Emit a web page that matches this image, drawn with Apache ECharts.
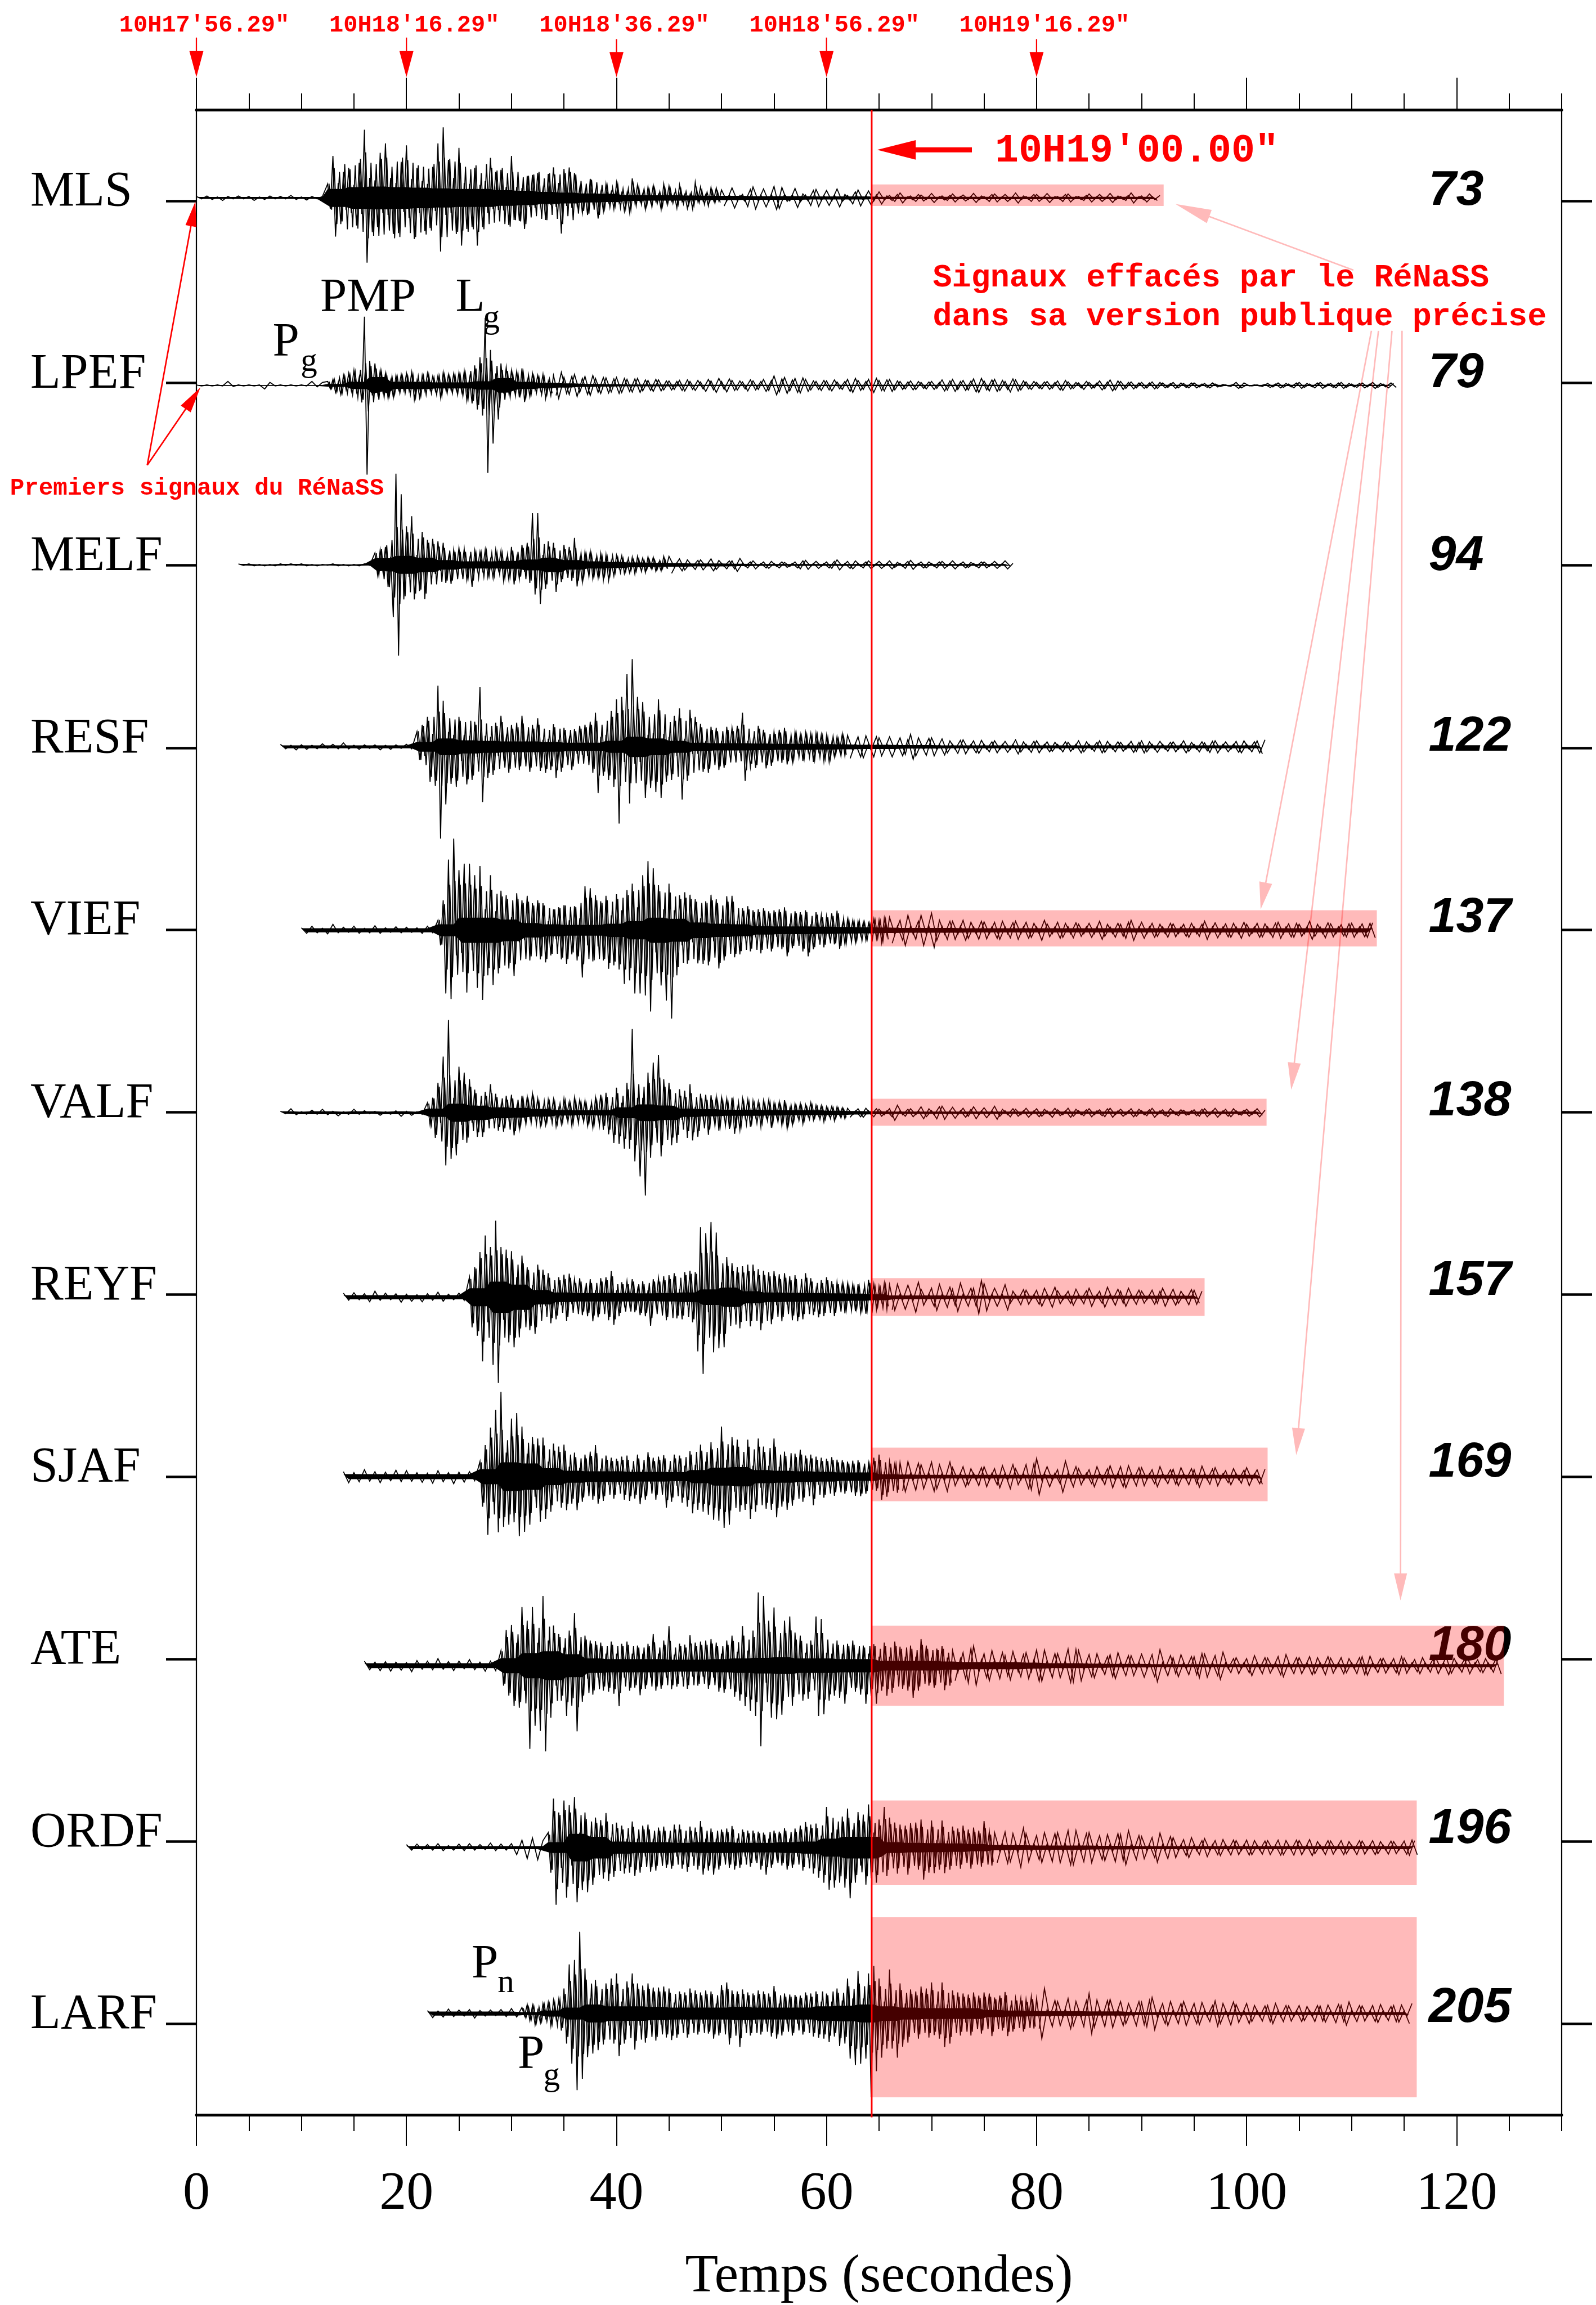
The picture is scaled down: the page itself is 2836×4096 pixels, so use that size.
<!DOCTYPE html>
<html><head><meta charset="utf-8"><style>html,body{margin:0;background:#fff}#c{width:2836px;height:4096px}</style>
<script src="https://cdn.jsdelivr.net/npm/echarts@6/dist/echarts.min.js"></script></head><body><div id="c"></div>
<script>
const stationNames=['MLS','LPEF','MELF','RESF','VIEF','VALF','REYF','SJAF','ATE','ORDF','LARF'];
const distances=['73','79','94','122','137','138','157','169','180','196','205'];
const stationTicks=[182,545,909,1273,1636,2000,2364,2727,3091,3455,3818];
const baselines=[176,550,908,1271,1637,2001,2369,2727,3104,3467,3798];
const traceStarts=[0,0,4,8,10,8,14,14,16,20,22];
const preBands=[2,1,2,3,4,3,4,5,5,3,4];
const xMajor=[0,20,40,60,80,100,120];
const clockTicks=[0,20,40,60,80];
const clockLabels=["10H17'56.29\"","10H18'16.29\"","10H18'36.29\"","10H18'56.29\"","10H19'16.29\""];
const cutTime=64.3;
const erasedEnd=[92.1,112.4,101.9,96,102,124.5,116.2,116.2];
const erasedTop=[149,1597,1973,2331,2669,3024,3373,3606];
const erasedBottom=[192,1669,2027,2406,2776,3184,3542,3965];

const mlsPre=[3,2,4,3,2,5,3,2,4,2,3,5,2,3,4,2,3,2,5,3,2,4,3,2,3];
const mlsLoud=[28,22,84,77,30,52,52,24,60,30,26,55,70,32,136,129,40,68,35,58,90,30,109,34,40,72,30,70,72,28,105,40,38,82,60,30,34,66,28,60,62,26,109,107,141,34,76,30,40,72,100,95,30,62,28,58,60,95,26,58,34,30,80,22,52,24,56,25,22,54,84,44,22,46,20,62,44,18,46,20,50,16,18,44,48,14,61,18,30,71,58,16,61,20,50,14,20,30,12,34,38,10,14,41,10,26,28,8,12,22,30,9,10,26,9,29,39,8,26,7,9,23,22,8,25,7,7,23,28,8,24,6,8,20,26,7,7,21,6,22,31,6,22,6,7,16,21,5,20,6];
const mlsBody=[22,18,46,40,40,36,52,48,44,45,50,47,60,52,70,62,54,58,52,58,60,56,62,50,48,62,56,60,62,45,58,54,54,60,50,53,48,56,45,50,52,42,56,60,62,60,60,50,56,52,54,50,48,52,44,48,50,52,38,48,52,40,46,38,42,36,46,40,38,44,40,34,40,36,32,40,34,30,36,28,40,32,30,34,38,26,36,32,36,40,38,28,40,34,36,24,26,20,22,24,28,18,24,26,20,16,18,14,16,12,20,15,14,16,14,18,20,12,16,10,14,13,12,14,15,9,10,13,14,10,14,8,12,10,14,9,10,11,8,12,14,7,12,10,9,6,11,8,10,7];
const mlsQuiet=[16,6,20,5,7,17,22,6,18,7,23,21,7,6,19,8,6,15,17,5,15,6,18,7,5,12,16,5,14,6,12,4,5,7,10,3,4,7,6,3,9,3,4,5,8,3,6,3,9,4,3,7,8,3,7,3,10,4,3,7,7,3,9,3,3,7,8,3,3,5,8,3,7,3,9,4,3,5,10,3,4,8,3,5];
const mlsCore=[30,36,38,36,34,32,30,30,26,24,20,18,15,14,10,9,9,8,7,7,6,6,6,5,5,5,4,4,4,4,4,4,4,4,4,4,4,4,4,4];

const lpefPre=[1,1,1,1,1,1,8,2,1,1,1,1,1,7,6,1,1,1,1,1,1,1,8,3,6];
const lpefLoud=[8,7,12,14,6,18,20,8,24,10,30,12,16,34,137,178,49,20,44,14,30,12,24,26,10,24,20,8,22,9,24,10,26,28,9,24,20,10,24,8,18,10,20,24,26,8,22,9,24,10,26,12,28,30,14,36,40,48,56,60,135,174,71,116,24,68,44,16,36,14,30,10,28,24,34,33,11,22,24,8,20,9,22,26,8,20];
const lpefBody=[6,5,10,10,12,12,14,12,16,14,20,18,24,22,34,40,30,26,26,22,20,18,16,16,14,14,14,12,14,12,14,14,16,18,14,16,14,14,16,12,12,14,14,16,16,12,14,12,16,14,16,16,18,20,22,24,26,30,34,36,42,46,38,40,30,34,24,22,22,18,18,16,18,14,20,18,16,14,14,12,12,14,12,14,10,12];
const lpefQuiet=[20,26,16,18,22,14,18,20,14,16,15,13,16,14,12,13,14,11,10,12,11,9,9,8,10,11,8,10,7,12,9,14,8,13,10,9,7,11,9,8,12,10,19,13,16,11,14,15,12,9,8,10,9,11,7,8,12,14,10,8,12,14,10,11,12,9,8,7,9,8,6,7,8,6,11,9,12,8,10,9,13,14,9,11,12,10,8,13,11,9,7,8,6,7,8,6,9,10,7,6,5,8,6,5,9,7,11,9,8,6,7,5,6,5,7,6,5,4,6,5,4,5,5,3,4,5,3,2,1,2,6,5,1,1,1,2,4,3,5,4,3,5,6,4,3,5,6,3,4,5,6,4,3,4,5,3,6,4,3,5,4];
const lpefCore=[5,12,28,12,12,10,10,14,24,12,9,7,5,4,3,3,3,2,2,2,2,2,2,2,2,2,2,2,2,2,2,2,2,2,2,2,2,2,2,2,2,2,2,2,2,2,2,2,2,2,2,2,2];

const melfPre=[2,1,2,2,1,2,1,2,2,1,2,1,2,2,1,2,1,1,2,2,1,2,1,2,2,1];
const melfLoud=[24,20,30,12,36,44,16,104,182,181,141,69,77,24,97,69,20,52,66,68,50,14,52,18,47,12,44,36,14,38,30,10,34,12,32,30,10,44,28,10,26,10,30,24,10,26,30,9,28,32,10,30,36,39,14,28,40,14,44,36,103,59,103,78,20,48,47,14,44,54,12,34,40,10,36,32,54,43,10,34,26,9,27,28,8,26,22,30,20,31,7,22,19,6,18,17,5,16,15,18,17,5,14,15,16,5,15,13,4,12,17,4];
const melfBody=[18,16,24,22,30,34,38,50,58,60,54,48,50,42,48,44,40,38,42,44,34,30,32,30,28,26,26,24,22,24,20,22,20,22,20,20,20,24,18,20,18,18,20,16,18,16,18,14,18,20,16,18,22,24,20,18,26,22,28,24,40,36,42,38,32,30,28,24,26,30,22,22,24,20,22,20,26,24,18,20,16,18,16,16,14,16,14,16,12,16,14,12,11,12,10,10,10,9,8,10,9,10,7,8,8,7,8,7,7,6,8,6];
const melfQuiet=[17,4,12,10,3,9,10,3,12,9,3,8,8,13,3,6,8,3,6,7,3,6,5,3,6,8,9,3,7,3,6,7,10,3,7,8,3,6,8,3,7,3,8,5,3,7,9,3,6,6,3,6,7,3,8,3,6,5,3,6,6,3,7,3,8,3];
const melfCore=[22,30,24,16,12,12,13,18,24,16,12,10,8,7,6,5,5,4,3,3,3,3,3,3,3,3,3,3,3,3,3];

const resfPre=[5,4,3,6,4,5,3,4,6,3,5,4,8,4,3,5,4,3,4,6,3,5,4,3,5,4];
const resfLoud=[30,26,44,18,60,70,26,78,122,183,92,115,30,74,24,80,60,28,24,75,22,66,50,20,119,110,22,62,20,56,48,18,62,20,18,52,44,16,48,46,62,18,16,50,44,16,57,48,14,52,16,46,45,62,14,50,38,14,16,46,36,14,42,16,44,18,50,52,68,92,20,58,24,66,72,80,95,153,100,30,145,113,175,34,100,30,90,102,24,82,28,90,95,102,26,70,20,66,62,18,77,105,16,68,74,14,60,14,46,50,12,52,40,12,38,46,12,42,40,12,38,10,42,12,68,68,12,40,10,42,42,10,34,43,10,38,30,10,34,32,38,35,9,30,30,9,24,28,28,9,26,30,27,8,24,28,22,30,8,20,20,8,26,18];
const resfBody=[24,20,32,28,40,46,46,52,54,60,52,56,44,48,42,52,40,46,38,50,40,44,34,38,42,46,36,40,32,36,32,34,38,32,30,34,28,32,30,30,36,30,30,32,28,30,34,32,28,34,26,30,30,36,28,32,26,28,26,30,24,26,28,26,30,28,34,34,40,44,34,38,40,44,46,50,52,60,56,54,58,56,62,56,58,52,54,58,46,52,50,54,56,58,50,44,38,42,40,46,44,50,40,44,44,40,38,36,30,34,28,34,26,28,24,30,24,28,26,24,24,24,28,22,34,36,28,26,24,28,28,24,22,28,20,24,20,22,22,20,24,22,18,20,20,16,16,18,18,16,16,20,18,16,16,18,14,18,16,12,12,14,16,12];
const resfQuiet=[23,7,20,22,6,20,18,6,20,6,18,15,25,18,5,17,18,5,16,12,5,13,14,5,12,13,5,10,12,5,11,5,14,10,5,11,12,5,10,9,5,10,9,5,12,10,5,9,12,11,5,10,9,5,11,9,12,10,5,11,5,9,10,5,12,9,5,10,8,11,12,5,10,5,11,12,5,10,12,14];
const resfCore=[16,28,22,20,18,18,16,14,14,20,34,28,20,14,12,12,11,10,10,9,8,7,7,6,6,5,5,5,5,5,5,5,5,5,5,5,5,5,5,5,5,5];

const viefPre=[5,6,8,5,4,7,12,5,6,4,8,6,4,5,9,6,5,4,7,5,6,4,5,6,8,5];
const viefLoud=[20,30,60,126,141,137,183,50,120,45,133,124,133,40,110,115,128,139,42,90,110,109,38,86,79,30,70,76,26,91,74,24,60,20,69,60,54,20,60,58,54,64,18,50,42,18,46,58,50,67,20,48,48,60,24,94,88,30,84,62,70,32,58,60,69,77,30,70,72,78,40,107,80,100,93,126,46,126,110,130,138,162,124,44,90,110,42,140,93,176,40,90,70,30,76,67,71,24,62,66,24,67,58,70,71,22,62,76,22,60,68,20,69,54,18,48,44,16,48,42,40,14,42,46,44,14,38,42,40,13,42,38,46,52,13,36,38,13,36,42,40,52,12,38,36,12,30,34,28,11,34,28,39,37,11,28,22,10,20,24,18,10,16,20,14,9,22,16,20,24,24,9];
const viefBody=[16,22,40,60,70,72,76,68,70,64,72,66,70,62,64,66,68,70,60,58,62,60,56,58,52,54,48,50,46,52,48,46,42,44,44,40,38,40,42,40,38,44,34,36,32,36,34,42,38,44,36,34,36,40,42,52,50,44,50,46,46,44,42,44,46,50,44,48,48,52,50,60,54,58,60,66,62,66,68,70,72,76,70,66,60,64,58,68,58,72,52,56,48,50,50,46,48,44,44,46,42,46,42,48,46,42,42,50,38,40,44,36,44,36,34,32,30,30,32,28,28,30,28,30,30,28,26,28,28,26,28,26,30,34,26,24,26,24,24,28,28,34,22,26,24,22,20,22,20,20,22,20,26,24,18,20,16,18,14,16,14,16,12,14,11,13,16,12,14,16,16,14];
const viefQuiet=[26,8,20,30,8,18,30,8,34,20,8,18,18,8,20,16,7,18,17,7,16,18,7,15,18,7,16,14,7,20,13,7,16,14,7,15,12,7,14,7,18,12,7,14,12,16,20,7,16,7,14,12,7,14,13,7,12,14,7,12,18,7,15,7,13,14,7,16,12,7,14,13,7,14,16,7,13,14,12,7,18,12,7,15,13,7,11,13,14,7,13,14,15];
const viefCore=[20,42,42,36,24,20,18,18,22,30,42,38,26,22,20,14,13,13,12,11,10,9,8,8,8,7,7,7,7,7,7,7,7,7,7,7,7,7,7,7,7,7,7,7,7,7,7];

const valfPre=[3,2,8,4,2,3,5,3,7,4,3,6,2,3,7,3,4,2,3,5,2,3,4,7,3,5,2,3];
const valfLoud=[20,24,30,50,60,20,112,105,185,92,30,85,92,24,80,60,67,20,46,48,14,48,42,14,57,12,38,36,12,38,34,12,36,45,10,32,34,10,32,8,38,8,28,26,8,24,26,8,26,27,8,22,28,8,22,26,30,8,26,9,24,26,9,30,30,10,36,34,40,43,14,60,50,62,20,72,60,72,167,97,30,127,30,165,80,90,100,30,115,87,67,24,60,65,14,60,47,14,44,50,57,55,12,48,38,10,36,44,35,10,32,36,30,9,28,32,30,42,9,34,28,9,26,28,24,8,22,28,24,8,26,30,20,8,22,26,25,32,8,24,18,7,18,22,16,7,20,14,15,6,14,18,12,6,13,16,12,5,10,12];
const valfBody=[14,18,22,34,40,44,54,52,58,54,50,48,50,42,44,38,40,28,30,30,26,30,26,24,30,24,24,22,22,24,20,26,22,28,20,20,20,18,18,16,22,18,16,16,18,14,16,16,16,16,14,14,18,14,14,16,18,16,16,14,14,16,16,18,18,20,20,20,24,26,24,34,30,36,26,40,36,42,60,50,44,58,40,60,46,50,52,46,54,50,40,42,36,38,30,34,26,26,24,28,30,30,24,28,22,24,20,26,20,20,18,22,18,20,16,18,18,24,16,20,16,18,16,16,14,16,12,16,14,12,16,18,12,14,12,14,14,18,12,14,10,12,10,12,9,10,12,8,9,10,8,10,7,9,8,9,7,8,6,7];
const valfQuiet=[9,4,8,9,4,8,7,4,8,15,4,7,8,4,12,8,4,12,13,4,11,4,9,7,12,4,10,4,13,7,4,8,7,4,9,4,8,7,4,9,6,4,9,7,4,6,8,4,6,8,9,4,7,4,8,7,4,6,9,4,6,8,4,6,5,4,6,7,8,4,9,4,7,8,4,5,7,4,8,5];
const valfCore=[14,30,24,18,16,13,9,8,9,18,28,24,14,12,10,10,9,8,8,7,6,5,4,4,4,4,4,4,4,4,4,4,4,4,4,4,4,4,4,4,4];

const reyfPre=[8,6,9,5,7,9,12,6,8,5,7,10,6,8,5,9,7,6,10,8,6,5,8,6];
const reyfLoud=[40,60,60,77,90,128,123,50,100,135,153,171,100,45,95,90,92,100,40,80,83,30,60,66,24,73,65,20,55,18,48,52,16,44,40,16,45,47,47,14,36,14,38,36,14,38,36,48,14,40,38,14,40,46,52,55,14,38,30,14,32,14,36,30,14,36,32,38,14,57,36,14,38,14,42,46,44,14,48,42,16,44,50,16,53,50,50,108,140,153,128,30,150,110,129,102,30,100,80,30,68,24,60,62,62,18,65,58,65,16,56,66,53,16,50,54,52,16,46,48,48,15,42,46,44,48,14,44,48,14,38,36,14,40,34,38,40,13,32,38,30,12,28,32,27,12,26,28,26,30,10,33,35,10,26,24,22,8,28,24];
const reyfBody=[28,40,44,52,60,68,66,62,64,70,72,74,66,62,60,58,58,62,50,48,52,46,42,44,38,46,42,36,34,30,30,32,26,28,26,24,28,30,30,24,22,26,24,22,22,24,22,28,22,26,24,26,26,30,32,34,20,24,20,22,20,22,24,20,20,24,20,24,22,32,24,26,24,28,26,30,28,32,32,28,30,28,34,30,36,34,36,58,68,72,68,62,70,60,64,56,52,56,48,44,40,42,38,38,38,36,40,36,40,36,34,40,34,36,32,34,32,30,28,30,30,26,26,28,28,30,28,26,30,26,24,22,22,26,22,24,26,24,20,24,20,22,18,20,18,20,16,18,16,20,18,20,22,18,16,14,14,16,18,14];
const reyfQuiet=[25,26,6,24,6,30,16,6,18,26,6,20,16,28,6,18,18,33,27,6,18,5,25,12,5,15,14,5,14,18,5,20,13,5,12,16,5,13,18,5,12,20,5,16,12,18,5,14,12,5,14,12,18,5,16,12,5,15,14,12];
const reyfCore=[30,52,42,24,16,14,14,14,13,14,16,26,32,20,16,15,14,13,12,10,6,6,6,5,5,5,5,5,5,5,5,5,5,5,5,5];

const sjafPre=[10,12,8,10,14,9,10,12,9,8,13,10,12,9,8,11,7,13,12,10,8,14,9,11,10,8];
const sjafLoud=[30,60,63,116,98,50,133,111,169,100,48,96,116,91,127,119,100,110,46,96,79,40,76,90,78,84,30,70,66,24,60,62,64,67,20,54,48,67,18,50,44,18,50,46,63,54,16,48,42,16,38,44,36,16,40,46,42,48,14,44,44,55,14,46,49,14,38,46,40,14,43,62,14,50,44,18,42,52,22,60,51,73,24,66,64,70,30,76,69,86,30,88,100,102,34,96,79,30,74,70,24,66,74,84,22,70,76,22,60,64,22,66,76,81,20,60,50,66,18,58,46,18,54,50,42,16,44,57,40,16,38,42,36,14,39,38,34,14,33,34,30,14,32,38,33,39,14,34,26,14,38,28,44,46,10,40,30,8,26,32];
const sjafBody=[22,40,42,64,60,58,66,64,72,62,56,58,62,56,64,62,58,60,52,56,50,48,48,52,48,50,42,44,40,38,38,40,40,42,34,34,30,40,28,32,28,30,32,30,36,34,28,30,26,28,24,28,24,26,26,28,26,30,24,28,28,32,26,30,30,26,24,28,26,28,28,36,24,32,28,30,28,32,30,36,34,42,38,40,40,42,38,44,42,48,44,50,54,54,50,52,48,48,46,44,38,42,46,50,42,44,46,44,38,40,44,42,46,48,34,38,32,40,36,36,30,34,34,32,28,30,28,34,26,28,24,28,24,26,26,24,22,24,22,22,20,24,20,24,22,26,20,22,18,20,24,18,26,28,22,24,20,22,18,20];
const sjafQuiet=[28,30,7,27,24,7,29,24,7,29,18,7,20,16,7,18,20,7,16,22,7,24,16,7,24,26,36,7,20,7,14,31,7,20,16,7,14,20,7,16,22,7,20,22,6,18,18,6,14,20,6,14,15,18,6,16,14,21,6,15,18,6,12,16,6,13,18,6,14,15];
const sjafCore=[25,48,44,28,20,18,18,16,16,15,22,30,32,22,20,18,16,14,14,8,7,6,6,6,6,6,6,6,6,6,6,6,6,6,6,6,6,6,6];

const atePre=[9,8,7,10,8,11,7,9,6,12,10,7,9,8,14,7,8,10,9,6,12,8,7,11,9,10];
const ateLoud=[30,40,71,60,81,81,46,84,117,50,90,166,117,120,46,130,139,171,50,104,80,40,63,70,36,100,70,80,105,131,30,72,60,26,50,58,49,24,46,50,24,52,48,56,24,81,44,24,48,50,24,44,40,59,24,46,44,24,63,50,24,46,50,24,79,47,22,42,44,22,42,46,61,22,46,40,48,22,50,46,53,24,46,52,24,54,50,26,60,62,28,70,79,81,30,90,70,100,146,161,139,34,90,104,116,107,30,98,90,30,98,80,66,28,60,70,26,66,50,26,98,100,93,97,26,70,24,60,50,64,24,76,44,24,50,52,24,58,40,76,24,60,43,76,18,50,46,60,18,54,48,18,38,46,18,50,40,64,18,50,53,16,40,40,16,44,34,16,39,49,16,40];
const ateBody=[22,28,44,42,52,54,48,56,62,58,56,70,64,66,58,68,72,74,60,58,50,54,44,46,42,56,46,50,58,64,44,46,40,42,34,38,32,36,30,32,30,34,32,36,30,42,30,32,32,34,30,30,28,36,28,30,30,32,36,32,28,30,32,30,38,30,28,28,30,32,28,30,34,30,30,28,32,28,32,30,34,30,30,34,30,36,32,36,38,40,36,44,46,48,40,52,44,56,66,70,64,56,52,58,60,60,50,54,50,48,54,48,40,44,38,44,34,40,32,38,50,52,50,52,40,44,34,38,32,40,32,44,30,34,32,34,30,36,28,44,30,36,30,42,26,32,30,36,28,34,30,32,26,30,28,32,26,38,24,32,32,28,26,26,24,30,24,26,26,30,20,26];
const ateQuiet=[30,14,26,34,39,12,24,30,12,26,20,28,12,22,26,12,31,31,10,24,24,8,33,32,30,8,22,24,8,18,22,26,7,20,20,7,23,6,22,32,6,20,16,22,6,18,18,24,23,6,20,27,6,14,16,6,14,20,6,16,15,6,18,22,6,16,16,6,18,16,6,18,15,6,16,14,6,16,18,19,6,14,15,6,14,18,15,6,12,16,6,13,16,6,18,15,6,13,16,6,12,14,6,13,17];
const ateCore=[25,42,48,38,24,22,22,22,20,20,22,24,26,28,24,24,22,22,16,16,16,14,12,12,12,10,8,8,7,6,6,5,5,5,5,5,5,5,5,5,5,5,5,5,5,5,5,5,5,5];

const ordfPre=[6,5,7,4,6,5,8,6,4,5,7,6,8,5,6,4,9,6,7,5,8,14,15,22,19,24,14];
const ordfLoud=[30,50,98,114,70,40,94,100,85,36,101,109,30,85,70,89,24,75,60,22,55,62,69,67,20,58,50,20,44,52,18,50,52,57,18,50,44,18,46,48,18,46,40,18,42,40,18,42,46,18,46,42,18,48,42,18,40,44,53,54,18,46,38,54,18,44,36,18,38,40,43,44,18,40,36,18,34,38,34,18,32,44,30,54,18,40,34,18,32,36,39,44,18,40,38,18,44,46,51,20,46,52,48,60,24,70,81,84,30,80,36,70,62,80,78,101,36,70,71,36,66,74,86,61,30,70,56,18,81,57,60,18,50,52,46,16,44,54,49,16,50,44,56,64,16,50,54,51,15,44,54,51,14,44,42,14,38,42,44,12,36,42,40,12,34,38,53,9,32,36];
const ordfBody=[20,34,56,64,50,54,58,60,54,56,60,62,50,52,44,50,40,46,38,42,34,38,40,40,36,36,30,36,28,32,30,30,32,34,28,30,28,30,28,30,26,28,26,28,26,26,26,28,28,26,28,26,26,30,26,28,24,28,32,32,26,28,24,32,26,28,24,26,24,26,28,28,22,26,24,26,22,24,22,24,22,28,20,30,24,26,22,24,22,24,26,28,24,26,24,26,28,30,32,32,30,32,30,36,34,42,48,50,46,50,40,44,40,48,46,54,38,42,42,38,40,44,48,38,38,42,34,38,44,34,36,32,30,32,28,30,28,32,30,28,30,28,32,36,28,30,32,30,28,26,32,30,24,28,26,28,24,26,26,24,22,26,24,26,22,24,30,26,20,22];
const ordfQuiet=[30,8,31,28,8,39,28,8,24,30,7,28,30,7,34,34,7,28,30,7,24,26,7,28,26,34,6,24,22,6,20,29,6,22,20,6,16,20,6,14,18,6,14,16,6,15,14,6,15,14,5,13,14,5,15,14,5,15,14,5,16,12,5,14,13,5,14,12,5,14,13,5,14,12,5,13,12,5,13,15,14];
const ordfCore=[18,46,36,20,18,18,16,18,18,16,16,18,20,30,36,36,18,16,15,14,12,9,8,7,7,7,6,6,5,5,5,5,5,5,5,5,5,5,5,5,5,5];

const larfPre=[6,8,5,7,9,6,7,5,8,9,6,5,7,4,8,6,10,7];
const larfLoud=[12,5,18,14,16,23,6,18,20,8,22,24,26,10,28,34,50,60,98,100,107,153,163,130,90,87,30,80,67,73,26,62,60,24,70,60,80,85,24,60,64,24,80,72,60,24,56,58,60,22,52,54,52,22,54,48,50,53,22,48,44,20,42,48,50,20,46,42,42,20,46,40,44,50,20,44,57,20,62,62,46,20,44,67,48,20,42,44,40,20,46,42,44,20,40,46,55,50,20,44,40,20,38,44,37,20,36,42,42,20,40,46,44,48,24,50,40,57,24,46,50,65,26,60,70,90,30,103,85,100,30,90,80,167,95,115,70,88,24,70,88,70,20,88,60,66,20,58,48,18,44,50,54,18,50,48,62,43,18,50,62,67,18,60,46,18,42,44,40,18,38,44,42,12,36,40,42,10,40,45,32,10,36,34,43,45,9,36,30,9,30,36,28,9,34,30];
const larfBody=[8,7,10,10,12,14,10,12,14,12,14,16,16,18,20,22,30,36,50,54,60,66,68,62,52,50,46,48,42,44,38,40,38,40,44,40,46,48,38,40,40,38,46,42,38,40,36,38,38,36,34,36,34,32,34,32,32,34,30,32,30,30,28,32,32,30,30,28,28,30,30,28,30,32,28,30,36,32,38,38,30,34,30,38,30,30,28,30,28,30,30,28,30,28,26,30,34,32,28,28,26,28,26,30,26,26,24,28,28,30,26,30,30,32,34,32,28,34,34,30,32,38,32,36,42,50,38,54,46,52,42,48,44,60,50,56,42,48,38,42,46,42,36,46,36,40,32,36,30,30,28,32,32,30,30,30,36,28,34,32,36,38,32,36,28,30,26,28,26,28,24,28,26,24,24,26,26,24,26,28,22,24,24,22,28,28,20,24,20,22,20,24,18,22,22,20];
const larfQuiet=[30,50,8,26,24,8,30,24,8,26,40,27,8,26,28,7,24,20,7,24,22,26,32,7,20,24,7,20,24,6,20,22,6,16,25,20,6,23,18,6,20,16,6,15,16,20,6,16,15,6,16,14,6,16,15,17,6,18,16,23,6,16,15,6,16,18,6,14,16,17,6,20];
const larfCore=[5,10,20,30,24,24,22,20,20,20,22,20,20,20,24,26,30,24,20,18,18,18,12,10,9,8,8,7,7,5,5,5,5,5,5,5,5,5,5,5,5,5,5];

const tracePre=[mlsPre,lpefPre,melfPre,resfPre,viefPre,valfPre,reyfPre,sjafPre,atePre,ordfPre,larfPre];
const traceLoud=[mlsLoud,lpefLoud,melfLoud,resfLoud,viefLoud,valfLoud,reyfLoud,sjafLoud,ateLoud,ordfLoud,larfLoud];
const traceBody=[mlsBody,lpefBody,melfBody,resfBody,viefBody,valfBody,reyfBody,sjafBody,ateBody,ordfBody,larfBody];
const traceQuiet=[mlsQuiet,lpefQuiet,melfQuiet,resfQuiet,viefQuiet,valfQuiet,reyfQuiet,sjafQuiet,ateQuiet,ordfQuiet,larfQuiet];
const traceCore=[mlsCore,lpefCore,melfCore,resfCore,viefCore,valfCore,reyfCore,sjafCore,ateCore,ordfCore,larfCore];

// Annotation layout, in the coordinates of the source figure
const refX=p=>(p-392)/20.95, refY=p=>p-219, S=0.8907;
const numberX=2850, numberY=[382,745,1110,1471,1832,2198,2556,2919,3285,3650,4006];
const F={serif:'85px "Liberation Serif"',sub:'59px "Liberation Serif"',big:'bold 70px "Liberation Mono"',mid:'bold 56.8px "Liberation Mono"',small:'bold 42.6px "Liberation Mono"'};
const notes=[['PMP',639,596,'serif'],['L',909,596,'serif'],['g',964,636,'sub'],['P',544,684,'serif'],['g',600,723,'sub'],['P',941,3920,'serif'],['n',993,3957,'sub'],['P',1033,4101,'serif'],['g',1084,4142,'sub'],
["10H19'00.00\"",1985,302,'big'],['Signaux effacés par le RéNaSS',1861,556,'mid'],['dans sa version publique précise',1861,633,'mid'],['Premiers signaux du RéNaSS',20,975,'small']];
const RED='#ff0000',PINK='rgba(255,0,0,0.27)';
const arrows=[[392,75,392,154,52,28,2.5,RED],[811,75,811,154,52,28,2.5,RED],[1230,78,1230,154,50,28,2.5,RED],[1649,75,1649,154,52,28,2.5,RED],[2068,78,2068,154,50,28,2.5,RED],
[1939,299,1750,299,77,39,10,RED],[294,928,390,402,50,22,3,RED],[294,928,400,773,52,24,3,RED],
[2700,539,2345,407,72,28,3,PINK],[2736,660,2515,1814,54,26,3,PINK],[2750,660,2576,2174,54,26,3,PINK],[2777,660,2586,2903,54,26,3,PINK],[2797,660,2794,3193,54,26,3,PINK]];

function buildTrace(base,start,pre,loud,quiet){
  const pts=[];let t=start;
  const add=(list,dt)=>{let sign=-1;for(const v of list){pts.push([t,base+sign*v]);sign=-sign;t+=dt;}};
  add(pre,0.5);add(loud,0.25);add(quiet,0.5);
  return pts;
}
const tracePoints=stationNames.map((n,i)=>buildTrace(baselines[i],traceStarts[i],tracePre[i],traceLoud[i],traceQuiet[i]));
const lineStyleBase={color:'#000',width:1.8,join:'miter'};
const lineBase={type:'line',z:2,silent:true,symbol:'none',showSymbol:false,clip:false,lineStyle:lineStyleBase,itemStyle:{color:'#000'},emphasis:{disabled:true}};
const traceSeries=stationNames.map((n,i)=>Object.assign({},lineBase,{name:n,data:tracePoints[i]}));
// Second pass of the loud part, half a step later: the dense body of each record
const bodyGain=1.3;
const bodySeries=stationNames.map((n,i)=>{
  const onset=traceStarts[i]+tracePre[i].length*0.5,b=baselines[i];
  return Object.assign({},lineBase,{name:n+' body',data:traceBody[i].map((v,k)=>[onset+0.125+k*0.25,b+(k%2?v:-v)*bodyGain])});
});
// Second pass of the quiet tail, a quarter second later and in opposite phase
const tailSeries=stationNames.map((n,i)=>{
  const onset=traceStarts[i]+tracePre[i].length*0.5,b=baselines[i],t0=onset+traceLoud[i].length*0.25+0.25;
  return Object.assign({},lineBase,{name:n+' tail',data:traceQuiet[i].map((v,k)=>[t0+k*0.5,b+(k%2?-v:v)])});
});

// Solid band of each trace, capped by the half-width read every 2 s from the onset
function bandPoints(i){
  const b=baselines[i],onset=traceStarts[i]+tracePre[i].length*0.5,core=traceCore[i];
  const top=[],bot=[];
  tracePoints[i].forEach(q=>{
    const t=q[0],k=Math.min(core.length-1,Math.floor((t-onset)/2));
    const cap=t<onset?preBands[i]:core[k]*0.6,v=Math.abs(q[1]-b),r=Math.min(v,cap);
    if(q[1]<b)top.push([t,b-r]);else bot.push([t,b+r]);
  });
  return top.concat(bot.reverse());
}
const bandLines=stationNames.map((n,i)=>bandPoints(i));
const coreSeries={type:'custom',z:2,silent:true,data:baselines.map((b,i)=>[traceStarts[i],b]),
  renderItem(p,api){return {type:'polygon',shape:{points:bandLines[p.dataIndex].map(q=>api.coord(q))},style:{fill:'#000'}};}};

const numberSeries={type:'custom',z:1,silent:true,data:distances.map((d,i)=>[refX(numberX),refY(numberY[i])]),
  renderItem(p,api){const c=api.coord([api.value(0),api.value(1)]);
    return {type:'text',x:c[0],y:c[1],style:{text:distances[p.dataIndex],fill:'#000',font:'italic bold 88px "Liberation Sans"',align:'left',verticalAlign:'middle',textAlign:'left',textVerticalAlign:'middle'}};}};
const rectSeries={type:'custom',z:3,silent:true,encode:{x:[0,2],y:[1,3]},
  data:erasedEnd.map((e,i)=>[cutTime,erasedTop[i],e,erasedBottom[i]]),
  renderItem(p,api){const a=api.coord([api.value(0),api.value(1)]),b=api.coord([api.value(2),api.value(3)]);
    return {type:'rect',shape:{x:a[0],y:a[1],width:b[0]-a[0],height:b[1]-a[1]},style:{fill:PINK}};}};
const cutSeries={type:'custom',z:4,silent:true,encode:{x:[0,2],y:[1,3]},data:[[cutTime,0,cutTime,4005]],
  renderItem(p,api){const a=api.coord([api.value(0),api.value(1)]),b=api.coord([api.value(2),api.value(3)]);
    return {type:'line',shape:{x1:a[0],y1:a[1],x2:b[0],y2:b[1]},style:{stroke:RED,lineWidth:3}};}};
const arrowSeries={type:'custom',z:5,silent:true,encode:{x:[0,2],y:[1,3]},
  data:arrows.map(a=>[refX(a[0]),refY(a[1]),refX(a[2]),refY(a[3])]),
  renderItem(p,api){const A=arrows[p.dataIndex],a=api.coord([api.value(0),api.value(1)]),b=api.coord([api.value(2),api.value(3)]);
    const dx=b[0]-a[0],dy=b[1]-a[1],L=Math.hypot(dx,dy),ux=dx/L,uy=dy/L,nx=-uy,ny=ux;
    const hl=A[4]*S,hw=A[5]*S/2,sw=A[6]*S/2,bx=b[0]-ux*hl,by=b[1]-uy*hl;
    const pts=[[a[0]+nx*sw,a[1]+ny*sw],[bx+nx*sw,by+ny*sw],[bx+nx*hw,by+ny*hw],b,[bx-nx*hw,by-ny*hw],[bx-nx*sw,by-ny*sw],[a[0]-nx*sw,a[1]-ny*sw]];
    return {type:'polygon',shape:{points:pts},style:{fill:A[7]}};}};
const noteSeries={type:'custom',z:6,silent:true,data:notes.map(n=>[refX(n[1]),refY(n[2])]),
  renderItem(p,api){const n=notes[p.dataIndex],c=api.coord([api.value(0),api.value(1)]);
    const red=n[3]==='big'||n[3]==='mid'||n[3]==='small';
    return {type:'text',x:c[0],y:c[1],style:{text:n[0],fill:red?RED:'#000',font:F[n[3]],align:'left',verticalAlign:'middle',textAlign:'left',textVerticalAlign:'middle'}};}};

const minorX=(position)=>({type:'value',position,min:0,max:130,interval:5,axisLine:{show:true,onZero:false,lineStyle:{color:'#000',width:5}},
  axisTick:{show:true,inside:false,length:29,lineStyle:{color:'#000',width:2}},axisLabel:{show:false},splitLine:{show:false}});
const yBase=(position)=>({type:'value',position,inverse:true,min:0,max:4000,splitLine:{show:false},axisLine:{show:true,onZero:false,lineStyle:{color:'#000',width:2.2}},
  axisTick:{show:true,customValues:stationTicks,length:54,lineStyle:{color:'#000',width:4.5}}});

const chart=echarts.init(document.getElementById('c'),null,{renderer:'canvas'});
chart.setOption({animation:false,backgroundColor:'#fff',
  grid:{left:349,top:195,width:2426,height:3563,containLabel:false,outerBoundsMode:'none'},
  tooltip:{show:false},
  xAxis:[minorX('bottom'),
    {type:'value',position:'bottom',min:0,max:130,interval:20,axisLine:{show:false,onZero:false},splitLine:{show:false},
      axisTick:{show:true,customValues:xMajor,length:55,lineStyle:{color:'#000',width:2}},
      axisLabel:{show:true,customValues:xMajor,margin:94,fontFamily:'Liberation Serif',fontSize:96,color:'#000'},
      name:'Temps (secondes)',nameLocation:'middle',nameGap:289,nameTextStyle:{fontFamily:'Liberation Serif',fontSize:96,color:'#000',verticalAlign:'middle'}},
    minorX('top'),
    {type:'value',position:'top',min:0,max:130,interval:20,axisLine:{show:false,onZero:false},splitLine:{show:false},
      axisTick:{show:true,customValues:xMajor,length:57,lineStyle:{color:'#000',width:2}},
      axisLabel:{show:true,customValues:clockTicks,margin:150,verticalAlign:'middle',padding:[0,0,0,28],fontFamily:'Liberation Mono',fontWeight:'bold',fontSize:42,color:RED,
        formatter:v=>clockLabels[clockTicks.indexOf(v)]||''}}],
  yAxis:[Object.assign(yBase('left'),{axisLabel:{show:true,customValues:stationTicks,margin:295,align:'left',verticalAlign:'bottom',lineHeight:30,fontFamily:'Liberation Serif',fontSize:88,color:'#000',
      formatter:v=>stationNames[stationTicks.indexOf(v)]||''}}),
    Object.assign(yBase('right'),{axisLabel:{show:false}})],
  series:[numberSeries,coreSeries,...traceSeries,...bodySeries,...tailSeries,rectSeries,cutSeries,arrowSeries,noteSeries]});
</script></body></html>
